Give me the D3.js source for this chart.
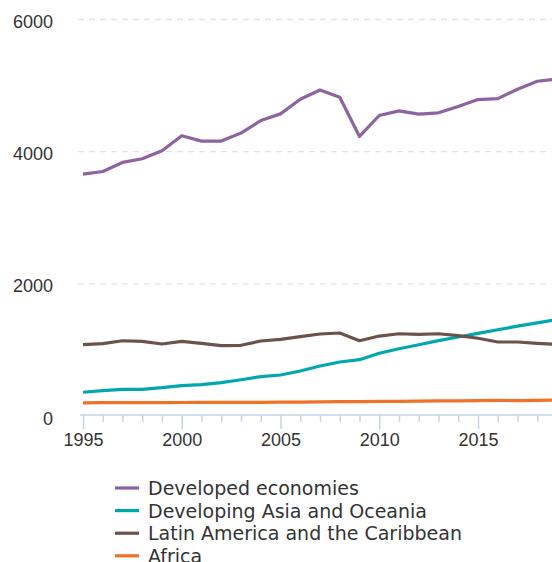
<!DOCTYPE html>
<html>
<head>
<meta charset="utf-8">
<script src="https://cdn.jsdelivr.net/npm/d3@7"></script>
<style>
  html, body { margin: 0; padding: 0; background: #fff; }
  svg { display: block; }
</style>
</head>
<body>
<svg id="chart" width="552" height="562"></svg>
<script>
// Yearly values per region
const years = [1995,1996,1997,1998,1999,2000,2001,2002,2003,2004,2005,2006,2007,2008,2009,2010,2011,2012,2013,2014,2015,2016,2017,2018,2019];

const developedEconomies = [3660,3700,3837,3893,4014,4240,4160,4160,4281,4471,4572,4794,4934,4824,4230,4547,4618,4568,4588,4683,4788,4803,4945,5066,5100];
const developingAsiaOceania = [359,383,404,404,428,459,474,504,549,595,620,681,757,817,852,949,1018,1079,1140,1195,1250,1305,1360,1410,1460];
const latinAmericaCaribbean = [1079,1094,1139,1130,1089,1130,1100,1064,1070,1135,1160,1200,1241,1256,1139,1210,1245,1236,1245,1215,1176,1120,1120,1100,1085];
const africa = [200,201,202,201,202,204,205,207,206,207,209,211,214,218,217,220,222,225,228,230,233,235,234,237,240];

const seriesNames = ["Developed economies", "Developing Asia and Oceania", "Latin America and the Caribbean", "Africa"];
const seriesValues = [developedEconomies, developingAsiaOceania, latinAmericaCaribbean, africa];
const seriesColors = ["#8b64a1", "#00a7ae", "#6b524a", "#f07229"];

const yTicks = [0, 2000, 4000, 6000];
const xLabelEvery = 5;

const svg = d3.select("#chart");

const x = d3.scaleLinear().domain([1995, 2019]).range([83, 557]);
const y = d3.scaleLinear().domain([0, 6000]).range([416, 19.5]);

// Horizontal dashed gridlines
svg.append("g")
  .selectAll("line")
  .data(yTicks.filter(d => d > 0))
  .join("line")
    .attr("x1", 78).attr("x2", 552)
    .attr("y1", d => y(d)).attr("y2", d => y(d))
    .attr("stroke", "#e3e3e3")
    .attr("stroke-width", 1.3)
    .attr("stroke-dasharray", "6,5");

// Y tick labels
svg.append("g")
  .selectAll("text")
  .data(yTicks)
  .join("text")
    .attr("x", 53)
    .attr("y", d => y(d) + 8.5)
    .attr("text-anchor", "end")
    .attr("font-family", "'Liberation Sans', Arial, sans-serif")
    .attr("font-size", 18)
    .attr("fill", "#333")
    .text(d => d);

// X axis with yearly ticks, longer ticks every five years
const xAxis = d3.axisBottom(x)
  .tickValues(years)
  .tickSizeOuter(0)
  .tickSize(7)
  .tickFormat(d => d % xLabelEvery === 0 ? d : "");

const gx = svg.append("g")
  .attr("transform", "translate(0,415)")
  .call(xAxis);

gx.select(".domain").remove();
gx.append("line")
  .attr("x1", 80).attr("x2", 552)
  .attr("y1", 0).attr("y2", 0)
  .attr("stroke", "#c3d4e7")
  .attr("stroke-width", 1.5);
gx.selectAll(".tick line")
  .attr("stroke", "#c3d4e7")
  .attr("stroke-width", 1.5)
  .attr("y2", d => d % xLabelEvery === 0 ? 14 : 7);
gx.selectAll(".tick text")
  .attr("y", 31)
  .attr("dy", 0)
  .attr("font-family", "'Liberation Sans', Arial, sans-serif")
  .attr("font-size", 18)
  .attr("fill", "#333");

// Series lines
const line = d3.line()
  .x((d, i) => x(years[i]))
  .y(d => y(d));

svg.append("g")
  .selectAll("path")
  .data(seriesValues)
  .join("path")
    .attr("d", d => line(d))
    .attr("fill", "none")
    .attr("stroke", (d, i) => seriesColors[i])
    .attr("stroke-width", 3.2)
    .attr("stroke-linejoin", "round");

// Legend
const legend = svg.append("g")
  .selectAll("g")
  .data(seriesNames)
  .join("g")
    .attr("transform", (d, i) => `translate(0,${488 + i * 22.6})`);

legend.append("line")
  .attr("x1", 115).attr("x2", 139)
  .attr("y1", 0).attr("y2", 0)
  .attr("stroke", (d, i) => seriesColors[i])
  .attr("stroke-width", 3.2);

legend.append("text")
  .attr("x", 148)
  .attr("y", 7)
  .attr("font-family", "'DejaVu Sans', Verdana, sans-serif")
  .attr("font-size", 19)
  .attr("fill", "#333")
  .text(d => d);
</script>
</body>
</html>
